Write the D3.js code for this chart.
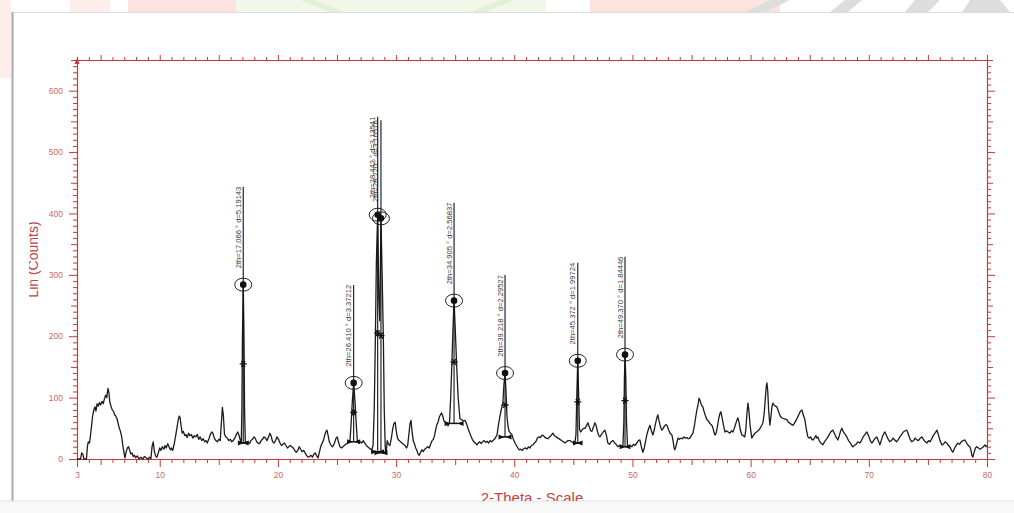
<!DOCTYPE html>
<html>
<head>
<meta charset="utf-8">
<script src="https://cdn.jsdelivr.net/npm/d3@7"></script>
<style>
  html, body { margin: 0; padding: 0; background: #fff; }
  svg { display: block; }
</style>
</head>
<body>
<svg id="chart" width="1014" height="513"></svg>
<script>
// XRD scan: [2-theta (deg), intensity (counts)]
const scan = [
  [3.00,0],[3.30,0],[3.40,10],[3.50,8],[3.58,0],[3.80,0],[3.88,20],[3.95,28],[4.05,26],[4.12,35],[4.22,52],[4.32,70],[4.42,80],[4.52,85],[4.60,78],[4.70,90],[4.80,86],[4.90,92],[5.00,88],[5.12,94],[5.22,90],[5.32,98],[5.42,104],[5.52,100],[5.62,115],[5.70,108],[5.78,92],[5.88,86],[5.98,80],[6.08,78],[6.18,72],[6.28,70],[6.38,66],[6.48,58],[6.58,50],[6.68,45],[6.78,36],[6.88,22],[6.98,10],[7.06,2],[7.16,12],[7.26,18],[7.36,20],[7.46,14],[7.56,8],[7.66,10],[7.76,4],[7.86,6],[7.96,2],[8.10,5],[8.25,0],[8.40,3],[8.55,0],[8.70,4],[8.85,2],[9.00,0],[9.15,3],[9.25,0],[9.35,20],[9.45,28],[9.55,12],[9.65,5],[9.77,3],[9.88,10],
  [10.00,18],[10.10,14],[10.22,20],[10.35,16],[10.45,22],[10.55,18],[10.68,25],[10.78,20],[10.90,15],[11.00,18],[11.10,14],[11.22,24],[11.35,38],[11.45,50],[11.55,62],[11.65,70],[11.72,68],[11.80,55],[11.90,42],[12.00,45],[12.12,38],[12.22,40],[12.32,35],[12.45,42],[12.55,38],[12.68,40],[12.80,34],[12.92,38],[13.05,36],[13.18,40],[13.30,32],[13.42,36],[13.55,30],[13.68,33],[13.80,28],[13.92,30],[14.02,26],[14.15,32],[14.28,40],[14.40,44],[14.50,42],[14.62,34],[14.75,30],[14.88,28],[15.00,32],[15.12,30],[15.22,60],[15.30,84],[15.38,72],[15.48,40],[15.60,36],[15.72,34],[15.85,30],[15.98,32],[16.10,28],[16.22,30],[16.35,34],[16.48,40],[16.60,44],[16.72,38],[16.82,30],
  [16.90,26],[16.95,80],[17.00,200],[17.066,284],[17.13,200],[17.18,80],[17.24,28],
  [17.35,26],[17.48,28],[17.60,25],[17.72,30],[17.85,32],[17.98,36],[18.08,34],[18.20,28],[18.32,26],[18.45,25],[18.58,30],[18.70,32],[18.82,36],[18.95,34],[19.08,30],[19.20,36],[19.32,42],[19.42,38],[19.55,28],[19.68,26],[19.80,30],[19.92,36],[20.05,32],[20.18,26],[20.30,22],[20.42,24],[20.55,26],[20.68,22],[20.80,18],[20.92,20],[21.05,22],[21.18,20],[21.30,18],[21.42,14],[21.55,11],[21.68,14],[21.80,20],[21.92,16],[22.05,12],[22.18,14],[22.30,10],[22.42,6],[22.55,3],[22.68,4],[22.80,6],[22.92,3],[23.05,8],[23.15,10],[23.28,5],[23.40,2],[23.52,12],[23.62,20],[23.74,26],[23.85,30],[23.95,38],[24.05,44],[24.15,47],[24.25,38],[24.35,28],[24.45,24],[24.58,20],[24.70,22],[24.82,28],[24.92,34],[25.02,36],[25.12,28],[25.25,20],[25.38,18],[25.50,20],[25.62,22],[25.75,24],[25.88,26],[26.00,28],
  [26.10,30],[26.20,60],[26.30,95],[26.41,124],[26.52,95],[26.62,60],[26.72,30],
  [26.85,26],[26.98,28],[27.10,26],[27.22,30],[27.35,26],[27.48,22],[27.60,20],[27.72,18],[27.85,16],[27.95,15],[28.05,22],
  [28.15,80],[28.25,200],[28.33,320],[28.442,398],[28.54,260],[28.62,225],[28.72,392],[28.82,300],[28.92,200],[29.00,80],[29.08,20],[29.15,8],
  [29.25,30],[29.35,24],[29.48,22],[29.60,34],[29.72,50],[29.82,58],[29.92,60],[30.02,45],[30.12,34],[30.25,30],[30.38,28],[30.50,26],[30.62,24],[30.75,22],[30.88,18],[30.98,22],[31.08,40],[31.18,58],[31.26,63],[31.35,45],[31.45,30],[31.55,25],[31.66,18],[31.76,14],[31.86,8],[31.95,6],[32.05,10],[32.18,15],[32.30,12],[32.42,16],[32.55,18],[32.68,20],[32.80,18],[32.92,24],[33.05,30],[33.15,32],[33.25,38],[33.35,48],[33.45,56],[33.55,60],[33.65,68],[33.75,72],[33.85,75],[33.95,70],[34.05,62],[34.15,60],[34.28,56],[34.40,54],
  [34.52,60],[34.62,100],[34.72,155],[34.82,215],[34.905,258],[35.00,215],[35.12,155],[35.25,100],[35.40,66],
  [35.55,64],[35.70,62],[35.83,63],[35.95,58],[36.08,50],[36.20,44],[36.32,38],[36.45,32],[36.58,28],[36.70,26],[36.84,23],[36.96,26],[37.08,28],[37.20,25],[37.32,28],[37.45,30],[37.58,27],[37.70,29],[37.82,26],[37.95,30],[38.08,28],[38.20,30],[38.32,32],[38.45,36],[38.55,40],[38.68,58],[38.79,70],[38.92,82],[39.04,92],[39.12,120],[39.218,140],[39.30,110],[39.38,70],[39.46,55],[39.56,45],[39.68,42],[39.80,40],[39.92,32],
  [40.06,26],[40.18,22],[40.30,18],[40.42,15],[40.55,16],[40.68,14],[40.80,17],[40.95,18],[41.07,16],[41.20,20],[41.32,18],[41.45,22],[41.58,23],[41.70,26],[41.82,28],[41.95,34],[42.08,36],[42.20,35],[42.32,38],[42.42,39],[42.55,36],[42.70,34],[42.85,33],[42.98,36],[43.10,38],[43.27,42],[43.40,38],[43.55,36],[43.70,34],[43.86,32],[44.00,30],[44.15,28],[44.29,26],[44.42,28],[44.55,30],[44.71,30],[44.85,28],[45.00,26],[45.13,26],
  [45.22,40],[45.30,110],[45.372,160],[45.44,110],[45.52,48],
  [45.62,44],[45.72,47],[45.85,50],[45.98,50],[46.10,54],[46.23,59],[46.35,52],[46.47,46],[46.57,45],[46.70,52],[46.82,59],[46.92,55],[47.05,44],[47.15,38],[47.25,36],[47.38,40],[47.52,44],[47.67,47],[47.80,38],[47.92,26],[48.05,24],[48.20,28],[48.35,30],[48.50,26],[48.62,24],[48.77,20],[48.90,22],[49.05,20],[49.19,20],
  [49.27,60],[49.32,130],[49.37,170],[49.44,130],[49.50,60],[49.58,22],
  [49.70,20],[49.82,22],[49.95,20],[50.08,24],[50.20,22],[50.38,26],[50.50,30],[50.63,31],[50.75,20],[50.88,11],[51.00,18],[51.12,30],[51.25,42],[51.38,50],[51.48,55],[51.60,46],[51.73,39],[51.85,48],[51.98,60],[52.08,68],[52.15,72],[52.25,62],[52.38,52],[52.49,47],[52.60,50],[52.72,54],[52.82,56],[52.92,55],[53.05,48],[53.18,42],[53.34,39],[53.45,28],[53.52,18],[53.59,15],[53.70,22],[53.85,34],[53.98,32],[54.10,34],[54.22,33],[54.35,36],[54.48,34],[54.60,35],[54.72,33],[54.86,34],[54.98,38],[55.12,42],[55.25,55],[55.35,68],[55.45,80],[55.55,88],[55.63,99],[55.71,96],[55.80,90],[55.90,86],[55.96,85],[56.05,78],[56.18,70],[56.30,64],[56.42,62],[56.55,58],[56.65,56],[56.72,55],[56.82,50],[56.90,44],[56.98,39],[57.08,42],[57.18,52],[57.30,66],[57.40,74],[57.48,77],[57.58,68],[57.70,55],[57.82,44],[57.95,46],[58.10,44],[58.25,42],[58.38,46],[58.50,44],[58.62,50],[58.75,58],[58.85,64],[58.92,67],[59.02,60],[59.12,48],[59.26,39],[59.38,38],[59.51,36],[59.60,50],[59.68,72],[59.77,91],[59.85,80],[59.95,55],
  [60.10,34],[60.22,38],[60.36,42],[60.50,44],[60.62,46],[60.75,48],[60.85,52],[60.95,55],[61.05,60],[61.15,75],[61.25,100],[61.32,118],[61.38,124],[61.45,110],[61.52,80],[61.63,55],[61.72,70],[61.80,85],[61.88,91],[61.98,88],[62.10,86],[62.22,85],[62.35,78],[62.50,70],[62.64,67],[62.78,66],[62.92,65],[63.07,64],[63.20,60],[63.35,58],[63.48,56],[63.58,55],[63.70,58],[63.82,62],[63.92,66],[64.00,69],[64.12,74],[64.22,78],[64.34,80],[64.45,72],[64.59,64],[64.70,50],[64.84,36],[64.95,34],[65.08,36],[65.18,32],[65.27,31],[65.40,34],[65.52,38],[65.60,34],[65.69,36],[65.80,30],[65.95,26],[66.11,23],[66.25,28],[66.40,32],[66.54,36],[66.65,40],[66.78,44],[66.88,46],[66.96,47],[67.08,42],[67.22,36],[67.38,31],[67.50,38],[67.62,46],[67.72,50],[67.85,44],[68.00,40],[68.14,36],[68.28,30],[68.45,26],[68.55,22],[68.65,20],[68.78,22],[68.92,24],[69.08,28],[69.24,26],[69.38,30],[69.52,36],[69.68,40],[69.84,44],[69.98,38],
  [70.12,30],[70.26,26],[70.40,30],[70.55,34],[70.68,36],[70.80,30],[70.94,23],[71.05,30],[71.18,38],[71.28,42],[71.36,44],[71.50,38],[71.65,32],[71.78,28],[71.92,30],[72.05,34],[72.20,31],[72.35,28],[72.50,32],[72.63,36],[72.78,40],[72.92,44],[73.08,46],[73.22,47],[73.35,40],[73.50,32],[73.64,28],[73.78,30],[73.92,34],[74.07,31],[74.20,30],[74.35,34],[74.49,36],[74.62,32],[74.78,28],[74.91,26],[75.05,30],[75.17,28],[75.30,32],[75.45,38],[75.60,42],[75.76,47],[75.88,40],[76.02,30],[76.18,23],[76.30,24],[76.45,28],[76.60,26],[76.75,22],[76.90,18],[77.00,14],[77.11,11],[77.22,16],[77.38,22],[77.53,26],[77.68,24],[77.82,28],[77.98,30],[78.13,31],[78.28,26],[78.42,22],[78.55,20],[78.65,14],[78.72,6],[78.80,3],[78.90,10],[79.02,18],[79.14,20],[79.28,18],[79.42,16],[79.56,18],[79.70,20],[79.82,23],[79.92,20],[80.00,22]
];

// Identified reflections
const peakAngles    = [17.066, 26.410, 28.442, 28.720, 34.905, 39.218, 45.372, 49.370];
const peakCounts    = [284, 124, 398, 392, 258, 140, 160, 170];
const peakBase      = [26, 28, 12, 10, 58, 36, 26, 20];
const peakHalfWidth = [0.2, 0.3, 0.3, 0.3, 0.55, 0.3, 0.15, 0.2];
const peakDSpacing  = ["5.19143", "3.37212", "3.13541", "3.10576", "2.56837", "2.29527", "1.99724", "1.84446"];

const xLabelTicks = [3, 10, 20, 30, 40, 50, 60, 70, 80];
const yLabelTicks = [0, 100, 200, 300, 400, 500, 600];

const xTitle = "2-Theta - Scale";
const yTitle = "Lin (Counts)";

// ---------------------------------------------------------------
const svg = d3.select("#chart");
const axisColor = "#c8383c";
const labelColor = "#c76a6a";
const titleColor = "#bf4343";
const traceColor = "#1c1c1c";

const x = d3.scaleLinear().domain([3, 80]).range([77, 987]);
const y = d3.scaleLinear().domain([0, 650]).range([459, 60]);

// page decoration: faint banner strip above the panel
const deco = svg.append("g").attr("class", "banner");
deco.append("rect").attr("x", 0).attr("y", 0).attr("width", 11).attr("height", 78).attr("fill", "#fdeeec");
deco.append("rect").attr("x", 70).attr("y", 0).attr("width", 40).attr("height", 12).attr("fill", "#fdeeec");
deco.append("rect").attr("x", 128).attr("y", 0).attr("width", 180).attr("height", 12).attr("fill", "#fce3df");
deco.append("rect").attr("x", 236).attr("y", 0).attr("width", 310).attr("height", 12).attr("fill", "#f1f8ea");
deco.append("path").attr("d", "M300,0 L330,12 L345,12 L315,0 Z M470,12 L500,0 L515,0 L485,12 Z").attr("fill", "#e2f1d5");
deco.append("rect").attr("x", 590).attr("y", 0).attr("width", 190).attr("height", 12).attr("fill", "#fde3dd");
deco.append("path").attr("d", "M745,12 L770,0 L790,0 L765,12 Z M830,12 L845,0 L862,0 L848,12 Z M905,12 L915,0 L940,0 L928,12 Z M962,12 L970,0 L1000,0 L1010,12 Z")
  .attr("fill", "#dddddd");

// panel frame
svg.append("line").attr("x1", 12).attr("x2", 1014).attr("y1", 12.5).attr("y2", 12.5).attr("stroke", "#dcdcdc");
svg.append("line").attr("x1", 12.5).attr("x2", 12.5).attr("y1", 12).attr("y2", 501).attr("stroke", "#a9a9a9").attr("stroke-width", 2);
svg.append("rect").attr("x", 0).attr("y", 501).attr("width", 1014).attr("height", 12).attr("fill", "#f8f8f8");
svg.append("line").attr("x1", 0).attr("x2", 1014).attr("y1", 501).attr("y2", 501).attr("stroke", "#e2e2e2");

// ---------------- axes ----------------
function styleAxis(g, keepDomain) {
  if (!keepDomain) g.select(".domain").remove();
  g.select(".domain").attr("stroke", axisColor).attr("stroke-width", 1.2);
  g.selectAll(".tick line").attr("stroke", axisColor).attr("stroke-width", 1);
  g.selectAll(".tick text").attr("fill", labelColor).attr("font-size", "8.5px")
    .attr("font-family", "'Liberation Sans', Arial, sans-serif");
}
function tickLayer(axisFn, scale, tf, values, size, withLabels, keepDomain, pad) {
  const ax = axisFn(scale).tickValues(values).tickSize(size).tickSizeOuter(0)
    .tickPadding(pad || 4).tickFormat(withLabels ? d3.format("d") : () => "");
  const g = svg.append("g").attr("transform", tf).call(ax);
  styleAxis(g, keepDomain);
  return g;
}

const deg1 = d3.range(3, 81, 1);
const deg5 = deg1.filter(d => d % 5 === 0 && d % 10 !== 0);
const deg10 = deg1.filter(d => d % 10 === 0);
const c10 = d3.range(0, 651, 10);
const c50 = c10.filter(d => d % 50 === 0 && d % 100 !== 0);
const c100 = c10.filter(d => d % 100 === 0);

const bottomT = `translate(0,${y(0)})`;
const topT = `translate(0,${y(650)})`;
const leftT = `translate(${x(3)},0)`;
const rightT = `translate(${x(80)},0)`;

// bottom
tickLayer(d3.axisBottom, x, bottomT, deg1.filter(d => d % 5 !== 0 && d !== 3), 4, false, false);
tickLayer(d3.axisBottom, x, bottomT, deg5, 6, false, false);
tickLayer(d3.axisBottom, x, bottomT, [3, ...deg10], 8, false, false);
tickLayer(d3.axisBottom, x, bottomT, xLabelTicks, 0, true, true, 13);
// top
tickLayer(d3.axisTop, x, topT, deg1.filter(d => d % 5 !== 0), 3, false, false);
tickLayer(d3.axisTop, x, topT, [...deg5, ...deg10], 5, false, true);
// left
tickLayer(d3.axisLeft, y, leftT, c10.filter(d => d % 50 !== 0), 4, false, false);
tickLayer(d3.axisLeft, y, leftT, c50, 6, false, false);
tickLayer(d3.axisLeft, y, leftT, c100, 8, false, false);
tickLayer(d3.axisLeft, y, leftT, yLabelTicks, 0, true, true, 14);
// right
tickLayer(d3.axisRight, y, rightT, c10.filter(d => d % 50 !== 0), 4, false, false);
tickLayer(d3.axisRight, y, rightT, c50, 6, false, false);
tickLayer(d3.axisRight, y, rightT, c100, 8, false, true);

// small arrowhead at the top of the intensity axis
svg.append("path")
  .attr("d", `M${x(3) - 2.5},${y(650) + 4} L${x(3)},${y(650) - 2} L${x(3) + 2.5},${y(650) + 4} Z`)
  .attr("fill", axisColor);

// axis titles (both run slightly past the panel edge and are cut there)
const defs = svg.append("defs");
defs.append("clipPath").attr("id", "ytitle-clip").append("rect")
  .attr("x", 29).attr("y", 150).attr("width", 30).attr("height", 220);
defs.append("clipPath").attr("id", "xtitle-clip").append("rect")
  .attr("x", 400).attr("y", 470).attr("width", 260).attr("height", 31);

svg.append("g").attr("clip-path", "url(#ytitle-clip)")
  .append("text")
  .attr("transform", `translate(38,${y(325)}) rotate(-90)`)
  .attr("text-anchor", "middle")
  .attr("font-family", "'Liberation Sans', Arial, sans-serif")
  .attr("font-size", "14px")
  .attr("fill", titleColor)
  .text(yTitle);

svg.append("g").attr("clip-path", "url(#xtitle-clip)")
  .append("text")
  .attr("x", x(41.5)).attr("y", 503)
  .attr("text-anchor", "middle")
  .attr("font-family", "'Liberation Sans', Arial, sans-serif")
  .attr("font-size", "15px")
  .attr("fill", titleColor)
  .text(xTitle);

// ---------------- diffraction trace ----------------
const line = d3.line().x(d => x(d[0])).y(d => y(d[1]));
svg.append("path")
  .datum(scan)
  .attr("d", line)
  .attr("fill", "none")
  .attr("stroke", traceColor)
  .attr("stroke-width", 1.3)
  .attr("stroke-linejoin", "round");

// ---------------- peak annotations ----------------
const labelRise = 98;   // marker line extends this far above the peak top
const peaks = peakAngles.map((a, i) => ({
  angle: a, count: peakCounts[i], base: peakBase[i], hw: peakHalfWidth[i],
  label: `2th=${a.toFixed(3)} ° d=${peakDSpacing[i]}`
}));

const pk = svg.append("g").attr("class", "peaks");
const pg = pk.selectAll("g").data(peaks).join("g");

// vertical marker line from the baseline up past the peak
pg.append("line")
  .attr("x1", d => x(d.angle)).attr("x2", d => x(d.angle))
  .attr("y1", d => y(d.base)).attr("y2", d => y(d.count) - labelRise)
  .attr("stroke", "#111").attr("stroke-width", 1.1);

// rotated peak label
pg.append("text")
  .attr("transform", d => `translate(${x(d.angle) - 2.5},${y(d.count) - labelRise}) rotate(-90)`)
  .attr("text-anchor", "end")
  .attr("font-family", "'Liberation Sans', Arial, sans-serif")
  .attr("font-size", "7.6px")
  .attr("fill", "#3a3a3a")
  .text(d => d.label);

// ellipse around the peak top
pg.append("ellipse")
  .attr("cx", d => x(d.angle)).attr("cy", d => y(d.count))
  .attr("rx", 8.5).attr("ry", 6.5)
  .attr("fill", "none").attr("stroke", "#222").attr("stroke-width", 1);

// filled top marker
pg.append("circle")
  .attr("cx", d => x(d.angle)).attr("cy", d => y(d.count))
  .attr("r", 3.3).attr("fill", "#111");

// half-height star
const star = "M-3.5,0 L3.5,0 M-1.8,-3 L1.8,3 M1.8,-3 L-1.8,3";
pg.append("path")
  .attr("transform", d => `translate(${x(d.angle)},${y((d.count + d.base) / 2)})`)
  .attr("d", star).attr("stroke", "#111").attr("stroke-width", 1.3).attr("fill", "none");

// base markers either side of the reflection
pg.append("path")
  .attr("transform", d => `translate(${x(d.angle - d.hw)},${y(d.base)})`)
  .attr("d", "M-3,-2.5 L3,0 L-3,2.5 Z").attr("fill", "#111");
pg.append("path")
  .attr("transform", d => `translate(${x(d.angle + d.hw)},${y(d.base)})`)
  .attr("d", "M3,-2.5 L-3,0 L3,2.5 Z").attr("fill", "#111");

// thin baseline segment under each reflection
pg.append("line")
  .attr("x1", d => x(d.angle - d.hw)).attr("x2", d => x(d.angle + d.hw))
  .attr("y1", d => y(d.base)).attr("y2", d => y(d.base))
  .attr("stroke", "#111").attr("stroke-width", 1.5);
</script>
</body>
</html>
